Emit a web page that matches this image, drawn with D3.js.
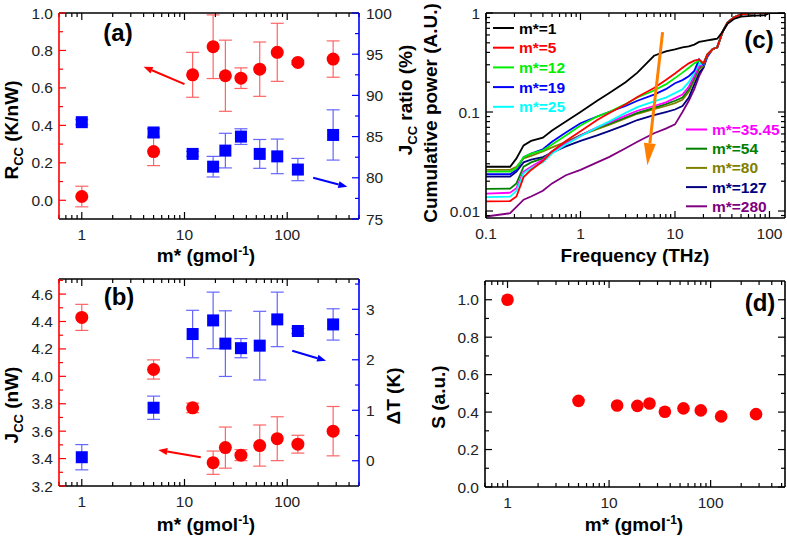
<!DOCTYPE html>
<meta charset="utf-8">
<style>
  body { margin: 0; background: #fff; }
  svg text { font-family: "Liberation Sans", Arial, sans-serif; }
</style>
<svg id="fig" width="787" height="538"></svg>
<script src="https://cdn.jsdelivr.net/npm/d3@7"></script>
<script>

// ---- data ----
var mass = [1, 5, 12, 19, 25, 35.45, 54, 80, 127, 280];

// (a)
var rcc      = [0.02, 0.26, 0.67, 0.82, 0.665, 0.652, 0.70, 0.79, 0.736, 0.754];
var rccErr   = [0.055, 0.075, 0.12, 0.17, 0.19, 0.055, 0.145, 0.155, 0.01, 0.097];
var ratio    = [86.75, 85.5, 82.9, 81.35, 83.3, 85.0, 82.9, 82.6, 81.0, 85.2];
var ratioErr = [0.3, 0.45, 0.3, 1.25, 2.1, 0.95, 1.75, 2.1, 1.35, 3.05];

// (b)
var jcc      = [4.43, 4.05, 3.77, 3.37, 3.48, 3.425, 3.495, 3.545, 3.505, 3.60];
var jccErr   = [0.095, 0.07, 0.035, 0.085, 0.15, 0.04, 0.15, 0.16, 0.065, 0.18];
var dT       = [0.07, 1.05, 2.51, 2.78, 2.32, 2.23, 2.28, 2.80, 2.57, 2.70];
var dTErr    = [0.25, 0.23, 0.47, 0.56, 0.65, 0.19, 0.68, 0.54, 0.05, 0.31];

// (d)
var sVal     = [1.0, 0.46, 0.435, 0.433, 0.446, 0.402, 0.42, 0.409, 0.377, 0.389];

// (c) cumulative power vs frequency (THz)
var freq   = [0.1, 0.18, 0.21, 0.25, 0.3, 0.4, 0.5, 0.7, 1, 1.5, 2, 3, 4, 6, 8, 10, 12, 14, 16, 18, 20, 22, 25, 28, 32, 36, 42, 50, 70, 90, 100, 146];
var pw1    = [0.028, 0.028, 0.034, 0.046, 0.051, 0.055, 0.065, 0.08, 0.1, 0.13, 0.155, 0.2, 0.25, 0.37, 0.41, 0.43, 0.45, 0.46, 0.48, 0.51, 0.52, 0.53, 0.54, 0.55, 0.65, 0.78, 0.87, 0.92, 0.94, 0.95, 1.0, 1.0];
var pw5    = [0.0125, 0.0126, 0.014, 0.022, 0.026, 0.032, 0.04, 0.051, 0.064, 0.083, 0.097, 0.12, 0.142, 0.175, 0.21, 0.245, 0.28, 0.31, 0.33, 0.34, 0.31, 0.38, 0.43, 0.45, 0.65, 0.8, 0.9, 0.97, 1.0, 1.0, 1.0, 1.0];
var pw12   = [0.025, 0.025, 0.027, 0.035, 0.038, 0.041, 0.047, 0.058, 0.073, 0.09, 0.1, 0.12, 0.14, 0.165, 0.19, 0.22, 0.25, 0.28, 0.31, 0.33, 0.31, 0.38, 0.43, 0.45, 0.65, 0.8, 0.9, 0.97, 1.0, 1.0, 1.0, 1.0];
var pw19   = [0.0235, 0.0235, 0.026, 0.035, 0.038, 0.042, 0.05, 0.062, 0.077, 0.09, 0.1, 0.115, 0.13, 0.15, 0.17, 0.195, 0.21, 0.23, 0.26, 0.34, 0.3, 0.37, 0.43, 0.45, 0.65, 0.8, 0.9, 0.97, 1.0, 1.0, 1.0, 1.0];
var pw25   = [0.0138, 0.014, 0.016, 0.024, 0.027, 0.031, 0.038, 0.047, 0.057, 0.07, 0.08, 0.098, 0.112, 0.128, 0.14, 0.155, 0.17, 0.2, 0.25, 0.31, 0.3, 0.37, 0.43, 0.45, 0.65, 0.8, 0.9, 0.97, 1.0, 1.0, 1.0, 1.0];
var pw35   = [0.015, 0.0153, 0.017, 0.025, 0.028, 0.033, 0.04, 0.048, 0.058, 0.07, 0.078, 0.092, 0.103, 0.115, 0.125, 0.138, 0.15, 0.18, 0.23, 0.29, 0.3, 0.38, 0.43, 0.45, 0.65, 0.8, 0.9, 0.97, 1.0, 1.0, 1.0, 1.0];
var pw54   = [0.0167, 0.0168, 0.019, 0.028, 0.031, 0.034, 0.04, 0.049, 0.058, 0.069, 0.076, 0.088, 0.098, 0.11, 0.12, 0.13, 0.14, 0.17, 0.22, 0.28, 0.3, 0.38, 0.43, 0.45, 0.65, 0.8, 0.9, 0.97, 1.0, 1.0, 1.0, 1.0];
var pw80   = [0.026, 0.026, 0.028, 0.034, 0.036, 0.04, 0.044, 0.05, 0.058, 0.067, 0.074, 0.086, 0.096, 0.107, 0.115, 0.123, 0.133, 0.16, 0.21, 0.27, 0.29, 0.38, 0.43, 0.45, 0.65, 0.8, 0.9, 0.97, 1.0, 1.0, 1.0, 1.0];
var pw127  = [0.0222, 0.0222, 0.025, 0.031, 0.033, 0.035, 0.039, 0.045, 0.051, 0.058, 0.064, 0.074, 0.083, 0.093, 0.1, 0.106, 0.115, 0.14, 0.19, 0.25, 0.28, 0.37, 0.43, 0.45, 0.65, 0.8, 0.9, 0.97, 1.0, 1.0, 1.0, 1.0];
var pw280  = [0.0088, 0.0095, 0.011, 0.013, 0.014, 0.016, 0.019, 0.023, 0.026, 0.031, 0.035, 0.043, 0.05, 0.061, 0.068, 0.075, 0.1, 0.13, 0.17, 0.23, 0.28, 0.36, 0.43, 0.45, 0.65, 0.8, 0.9, 0.97, 1.0, 1.0, 1.0, 1.0];
var pwLabels = ["m*=1", "m*=5", "m*=12", "m*=19", "m*=25", "m*=35.45", "m*=54", "m*=80", "m*=127", "m*=280"];
var pwColors = ["#000000", "#ff0000", "#00ee00", "#0000ff", "#00ffff", "#ff00ff", "#008000", "#808000", "#000080", "#800080"];

// tick labels
var massTicks = [1, 10, 100];
var rccTicks = [0.0, 0.2, 0.4, 0.6, 0.8, 1.0];
var ratioTicks = [75, 80, 85, 90, 95, 100];
var jccTicks = [3.2, 3.4, 3.6, 3.8, 4.0, 4.2, 4.4, 4.6];
var dTTicks = [0, 1, 2, 3];
var freqTicks = [0.1, 1, 10, 100];
var pwTicks = [0.01, 0.1, 1];
var sTicks = [0.0, 0.2, 0.4, 0.6, 0.8, 1.0];

// annotation arrows, in data units [from, to]
var arrowAred  = [[10, 0.62], [4, 0.713]];
var arrowAblue = [[179, 80.0], [385, 78.9]];
var arrowBred  = [[14.4, 3.41], [5.56, 3.463]];
var arrowBblue = [[112, 2.18], [239, 1.98]];
var arrowC     = [[7.4, 0.64], [5.1, 0.029]];

// ---- helpers ----
var svg = d3.select("#fig");

function isDecade(d) {
  var l = Math.log10(d);
  return Math.abs(l - Math.round(l)) < 1e-6;
}

// one side of a frame with inward ticks
function edge(g, sc, orient, pos, major, minor, color, labels) {
  var horiz = (orient === "bottom" || orient === "top");
  var dir = (orient === "bottom" || orient === "right") ? -1 : 1;
  var r = sc.range();
  var ln = g.append("line").attr("stroke", color).attr("stroke-width", 1.6);
  if (horiz) ln.attr("x1", r[0]).attr("x2", r[1]).attr("y1", pos).attr("y2", pos);
  else ln.attr("y1", r[0]).attr("y2", r[1]).attr("x1", pos).attr("x2", pos);

  function tk(vals, len) {
    g.selectAll(null).data(vals).enter().append("line")
      .attr("stroke", color).attr("stroke-width", 1.2)
      .each(function(d) {
        var s = d3.select(this), p = sc(d);
        if (horiz) s.attr("x1", p).attr("x2", p).attr("y1", pos).attr("y2", pos + dir * len);
        else s.attr("y1", p).attr("y2", p).attr("x1", pos).attr("x2", pos + dir * len);
      });
  }
  tk(major, 7);
  tk(minor, 4);

  if (labels) {
    var t = g.selectAll(null).data(major).enter().append("text")
      .attr("fill", "#222").style("font-size", "15.5px")
      .text(function(d, i) { return labels[i]; });
    if (orient === "bottom") t.attr("x", sc).attr("y", pos + 21).attr("text-anchor", "middle");
    if (orient === "left") t.attr("x", pos - 6).attr("y", function(d) { return sc(d) + 5.5; }).attr("text-anchor", "end");
    if (orient === "right") t.attr("x", pos + 7).attr("y", function(d) { return sc(d) + 5.5; }).attr("text-anchor", "start");
  }
}

function logMinor(sc) {
  return sc.ticks().filter(function(d) { return !isDecade(d); });
}

function errBars(g, xs, ys, vals, errs, color) {
  var grp = g.append("g").attr("stroke", color).attr("stroke-width", 1.2).attr("opacity", 0.6);
  mass.forEach(function(m, i) {
    var x = xs(m), y1 = ys(vals[i] - errs[i]), y2 = ys(vals[i] + errs[i]);
    grp.append("line").attr("x1", x).attr("x2", x).attr("y1", y1).attr("y2", y2);
    grp.append("line").attr("x1", x - 6.5).attr("x2", x + 6.5).attr("y1", y1).attr("y2", y1);
    grp.append("line").attr("x1", x - 6.5).attr("x2", x + 6.5).attr("y1", y2).attr("y2", y2);
  });
}

function circles(g, xs, ys, vals, r) {
  g.selectAll(null).data(vals).enter().append("circle")
    .attr("cx", function(d, i) { return xs(mass[i]); })
    .attr("cy", function(d) { return ys(d); })
    .attr("r", r).attr("fill", "#ff0000");
}

function squares(g, xs, ys, vals) {
  g.selectAll(null).data(vals).enter().append("rect")
    .attr("x", function(d, i) { return xs(mass[i]) - 6; })
    .attr("y", function(d) { return ys(d) - 6; })
    .attr("width", 12).attr("height", 12).attr("fill", "#0000ff");
}

function arrow(g, xs, ys, a, color, w, hl, hw) {
  var x1 = xs(a[0][0]), y1 = ys(a[0][1]), x2 = xs(a[1][0]), y2 = ys(a[1][1]);
  var dx = x2 - x1, dy = y2 - y1, L = Math.sqrt(dx * dx + dy * dy);
  var ux = dx / L, uy = dy / L;
  var bx = x2 - ux * hl, by = y2 - uy * hl;
  g.append("line").attr("x1", x1).attr("y1", y1).attr("x2", bx).attr("y2", by)
    .attr("stroke", color).attr("stroke-width", w);
  g.append("path")
    .attr("d", "M" + x2 + "," + y2 + "L" + (bx - uy * hw / 2) + "," + (by + ux * hw / 2) +
               "L" + (bx + uy * hw / 2) + "," + (by - ux * hw / 2) + "Z")
    .attr("fill", color);
}

function massTitle(g, x, y) {
  var t = g.append("text").attr("x", x).attr("y", y).attr("text-anchor", "middle")
    .style("font-size", "19px").style("font-weight", "bold");
  t.append("tspan").text("m* (gmol");
  t.append("tspan").attr("dy", -7).style("font-size", "12px").text("-1");
  t.append("tspan").attr("dy", 7).text(")");
}

function subTitle(g, x, y, a, sub, b) {
  var t = g.append("text").attr("transform", "translate(" + x + "," + y + ") rotate(-90)")
    .attr("text-anchor", "middle").style("font-size", "19px").style("font-weight", "bold");
  t.append("tspan").text(a);
  t.append("tspan").attr("dy", 5).style("font-size", "13px").text(sub);
  t.append("tspan").attr("dy", -5).text(b);
}

function vTitle(g, x, y, s) {
  g.append("text").attr("transform", "translate(" + x + "," + y + ") rotate(-90)")
    .attr("text-anchor", "middle").style("font-size", "19px").style("font-weight", "bold")
    .text(s);
}

function panelTag(g, x, y, s) {
  g.append("text").attr("x", x).attr("y", y).attr("text-anchor", "middle")
    .style("font-size", "24px").style("font-weight", "bold").text(s);
}

// ---- panel (a) ----
var gA = svg.append("g");
var xA = d3.scaleLog().domain([0.6, 500]).range([59, 359]);
var yAL = d3.scaleLinear().domain([-0.1, 1.0]).range([219, 13]);
var yAR = d3.scaleLinear().domain([75, 100]).range([219, 13]);

edge(gA, xA, "bottom", 219, massTicks, logMinor(xA), "#000", ["1", "10", "100"]);
edge(gA, xA, "top", 13, massTicks, logMinor(xA), "#000", null);
edge(gA, yAL, "left", 59, rccTicks, d3.range(0.1, 1.0, 0.2), "#ff0000", rccTicks.map(d3.format(".1f")));
edge(gA, yAR, "right", 359, ratioTicks, d3.range(77.5, 100, 5), "#0000ff", ratioTicks.map(String));

errBars(gA, xA, yAL, rcc, rccErr, "#ff0000");
errBars(gA, xA, yAR, ratio, ratioErr, "#0000ff");
circles(gA, xA, yAL, rcc, 6.5);
squares(gA, xA, yAR, ratio);
arrow(gA, xA, yAL, arrowAred, "#ff0000", 2, 9, 7);
arrow(gA, xA, yAR, arrowAblue, "#0000ff", 2, 9, 7);

panelTag(gA, 118, 41, "(a)");
massTitle(gA, 206, 262);
subTitle(gA, 18, 130, "R", "CC", " (K/nW)");
subTitle(gA, 412, 100, "J", "CC", " ratio (%)");

// ---- panel (b) ----
var gB = svg.append("g");
var xB = d3.scaleLog().domain([0.6, 500]).range([59, 359]);
var yBL = d3.scaleLinear().domain([3.2, 4.71]).range([486, 279]);
var yBR = d3.scaleLinear().domain([-0.5, 3.6]).range([486, 279]);

edge(gB, xB, "bottom", 486, massTicks, logMinor(xB), "#000", ["1", "10", "100"]);
edge(gB, xB, "top", 279, massTicks, logMinor(xB), "#000", null);
edge(gB, yBL, "left", 59, jccTicks, d3.range(3.3, 4.75, 0.2), "#ff0000", jccTicks.map(d3.format(".1f")));
edge(gB, yBR, "right", 359, dTTicks, [0.5, 1.5, 2.5, 3.5], "#0000ff", dTTicks.map(String));

errBars(gB, xB, yBL, jcc, jccErr, "#ff0000");
errBars(gB, xB, yBR, dT, dTErr, "#0000ff");
circles(gB, xB, yBL, jcc, 6.5);
squares(gB, xB, yBR, dT);
arrow(gB, xB, yBL, arrowBred, "#ff0000", 2, 9, 7);
arrow(gB, xB, yBR, arrowBblue, "#0000ff", 2, 9, 7);

panelTag(gB, 119, 305, "(b)");
massTitle(gB, 206, 531);
subTitle(gB, 18, 405, "J", "CC", " (nW)");
vTitle(gB, 400, 396, "\u0394T (K)");

// ---- panel (c) ----
var gC = svg.append("g");
var xC = d3.scaleLog().domain([0.1, 146]).range([486, 785]);
var yC = d3.scaleLog().domain([0.0085, 1]).range([218, 13]);

gC.append("clipPath").attr("id", "clipC").append("rect")
  .attr("x", 486).attr("y", 13).attr("width", 299).attr("height", 205);

var pwSeries = [pw1, pw5, pw12, pw19, pw25, pw35, pw54, pw80, pw127, pw280];
var lineC = d3.line()
  .x(function(d, i) { return xC(freq[i]); })
  .y(function(d) { return yC(d); });

var curves = gC.append("g").attr("clip-path", "url(#clipC)");
for (var k = pwSeries.length - 1; k >= 0; k--) {
  curves.append("path").datum(pwSeries[k])
    .attr("d", lineC).attr("fill", "none")
    .attr("stroke", pwColors[k]).attr("stroke-width", 1.8);
}

edge(gC, xC, "bottom", 218, freqTicks, logMinor(xC), "#000", ["0.1", "1", "10", "100"]);
edge(gC, xC, "top", 13, freqTicks, logMinor(xC), "#000", null);
edge(gC, yC, "left", 486, pwTicks, logMinor(yC), "#000", ["0.01", "0.1", "1"]);
edge(gC, yC, "right", 785, pwTicks, logMinor(yC), "#000", null);

// legend
pwLabels.forEach(function(lab, i) {
  var left = i < 5;
  var x0 = left ? 493 : 686;
  var y0 = left ? 28 + i * 19.7 : 129.5 + (i - 5) * 19.2;
  gC.append("line").attr("x1", x0).attr("x2", x0 + 21).attr("y1", y0).attr("y2", y0)
    .attr("stroke", pwColors[i]).attr("stroke-width", 2);
  gC.append("text").attr("x", x0 + 26).attr("y", y0 + 5.5)
    .attr("fill", pwColors[i]).style("font-size", "15.5px").style("font-weight", "bold")
    .text(lab);
});

arrow(gC, xC, yC, arrowC, "#ff8000", 3, 22, 12);

panelTag(gC, 759, 48, "(c)");
gC.append("text").attr("x", 635).attr("y", 262).attr("text-anchor", "middle")
  .style("font-size", "19px").style("font-weight", "bold").text("Frequency (THz)");
vTitle(gC, 437, 113, "Cumulative power (A.U.)");

// ---- panel (d) ----
var gD = svg.append("g");
var xD = d3.scaleLog().domain([0.6, 540]).range([485, 785]);
var yD = d3.scaleLinear().domain([0, 1.1]).range([487, 281]);

edge(gD, xD, "bottom", 487, massTicks, logMinor(xD), "#000", ["1", "10", "100"]);
edge(gD, xD, "top", 281, massTicks, logMinor(xD), "#000", null);
edge(gD, yD, "left", 485, sTicks, d3.range(0.1, 1.05, 0.2), "#000", sTicks.map(d3.format(".1f")));
edge(gD, yD, "right", 785, sTicks, d3.range(0.1, 1.05, 0.2), "#000", null);

circles(gD, xD, yD, sVal, 6.3);

panelTag(gD, 760, 311, "(d)");
massTitle(gD, 634, 531);
vTitle(gD, 445, 397, "S (a.u.)");

</script>
